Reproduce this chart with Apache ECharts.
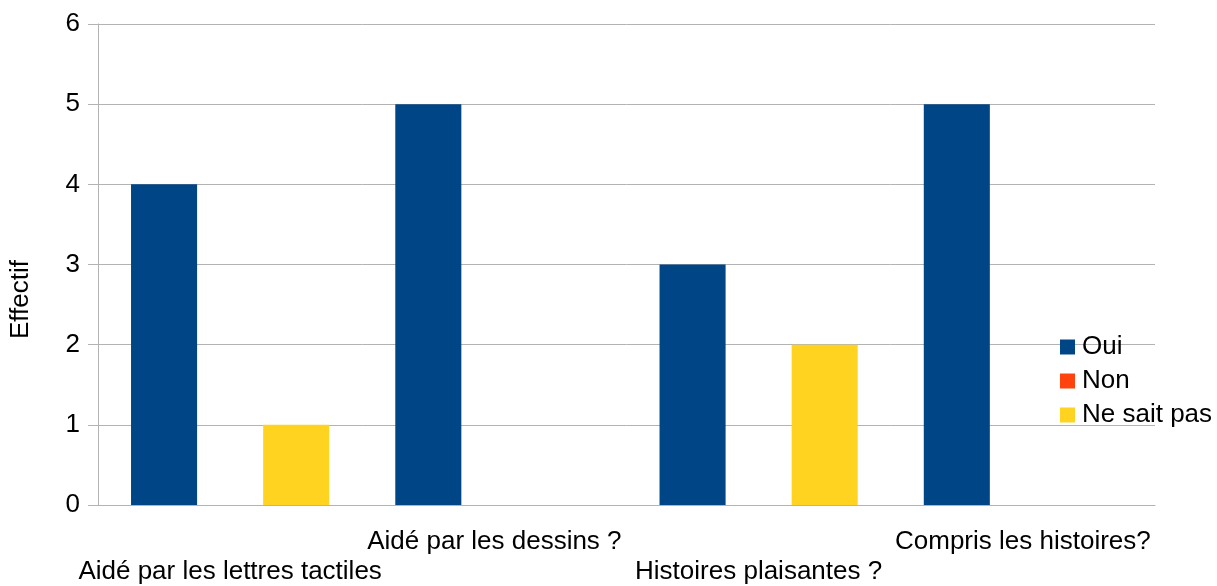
<!DOCTYPE html>
<html>
<head>
<meta charset="utf-8">
<script src="https://cdn.jsdelivr.net/npm/echarts@6/dist/echarts.min.js"></script>
<style>
  html, body { margin: 0; padding: 0; background: #fff; }
</style>
</head>
<body>
<div id="chart" style="width: 1217px; height: 586px"></div>
<script>
const categories = [
  "Aidé par les lettres tactiles",
  "Aidé par les dessins ?",
  "Histoires plaisantes ?",
  "Compris les histoires?",
];
const oui = [4, 5, 3, 5];
const non = [0, 0, 0, 0];
const neSaitPas = [1, 0, 2, 0];

const font = "Liberation Sans, Arial, sans-serif";
const gridColor = "#b3b3b3";

const chart = echarts.init(document.getElementById("chart"));
chart.setOption({
  animation: false,
  textStyle: { fontFamily: font },
  grid: { left: 98, right: 62, top: 24, bottom: 81, outerBoundsMode: "none", containLabel: false },
  legend: {
    orient: "vertical",
    left: 1055,
    top: 329,
    icon: "rect",
    itemWidth: 15,
    itemHeight: 15,
    itemGap: 8,
    textStyle: { fontSize: 26, color: "#000", fontFamily: font, padding: [0, 0, 0, 2] },
    data: ["Oui", "Non", "Ne sait pas"],
  },
  xAxis: {
    type: "category",
    data: categories,
    axisLine: { lineStyle: { color: gridColor } },
    axisTick: { length: 8, lineStyle: { color: gridColor } },
    axisLabel: {
      interval: 0,
      margin: 22,
      fontSize: 26,
      lineHeight: 30,
      color: "#000",
      fontFamily: font,
      // staggered labels: even items go on the lower line
      formatter: (value, index) => (index % 2 === 0 ? "\n" + value : value),
    },
  },
  yAxis: {
    type: "value",
    min: 0,
    max: 6,
    interval: 1,
    name: "Effectif",
    nameLocation: "middle",
    nameGap: 64,
    nameRotate: 90,
    nameTextStyle: { fontSize: 26, color: "#000", fontFamily: font, padding: [0, 0, 0, -70] },
    axisLine: { show: true, lineStyle: { color: gridColor } },
    axisTick: { show: true, length: 10, lineStyle: { color: gridColor } },
    splitLine: { lineStyle: { color: gridColor } },
    axisLabel: { margin: 18, fontSize: 26, color: "#000", fontFamily: font },
  },
  series: [
    {
      name: "Oui",
      type: "bar",
      data: oui,
      barGap: 0,
      barCategoryGap: "25%",
      itemStyle: { color: "#004586" },
    },
    {
      name: "Non",
      type: "bar",
      data: non,
      barGap: 0,
      barCategoryGap: "25%",
      itemStyle: { color: "#ff420e" },
    },
    {
      name: "Ne sait pas",
      type: "bar",
      data: neSaitPas,
      barGap: 0,
      barCategoryGap: "25%",
      itemStyle: { color: "#ffd320" },
    },
  ],
});
</script>
</body>
</html>
